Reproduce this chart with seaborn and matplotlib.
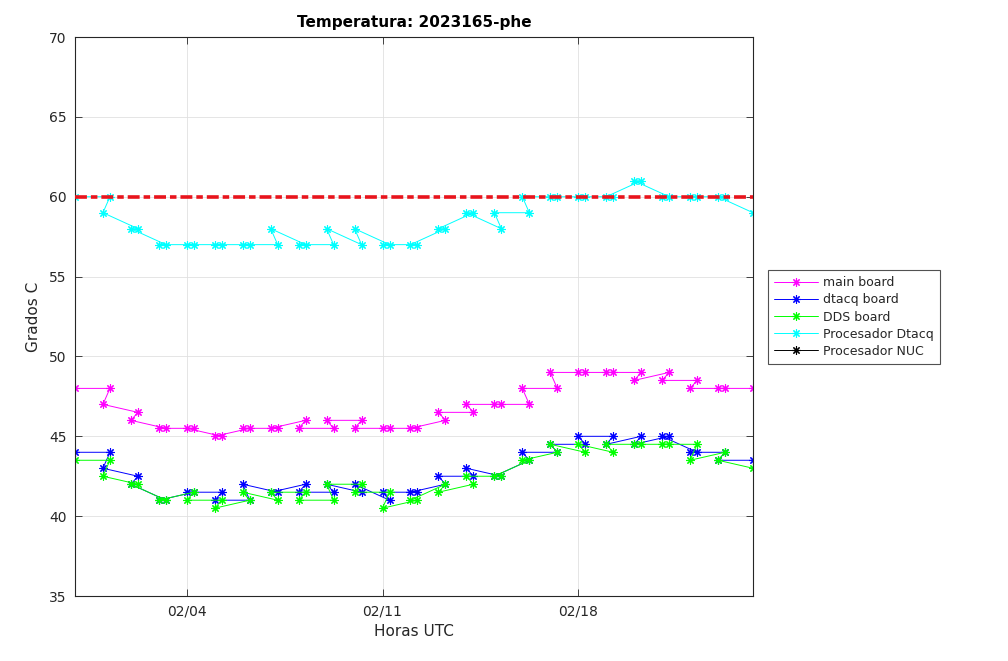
import matplotlib
matplotlib.use('Agg')
import matplotlib.pyplot as plt
import matplotlib.dates as mdates
from matplotlib.lines import Line2D
import numpy as np
import pandas as pd
import seaborn as sns

# Sample times (in the order the file lists them) and temperatures
horas = ['01-31 00',
         '02-01 06', '02-01 00', '02-02 06', '02-02 00', '02-03 06', '02-03 00',
         '02-04 06', '02-04 00', '02-05 06', '02-05 00', '02-06 06', '02-06 00',
         '02-07 06', '02-07 00', '02-08 06', '02-08 00', '02-09 06', '02-09 00',
         '02-10 06', '02-10 00', '02-11 06', '02-11 00', '02-12 06', '02-12 00',
         '02-13 06', '02-13 00', '02-14 06', '02-14 00', '02-15 06', '02-15 00',
         '02-16 06', '02-16 00', '02-17 06', '02-17 00', '02-18 06', '02-18 00',
         '02-19 06', '02-19 00', '02-20 06', '02-20 00', '02-21 06', '02-21 00',
         '02-22 06', '02-22 00', '02-23 06', '02-23 00',
         '02-24 06']

main_board = [48,
              48, 47, 46.5, 46, 45.5, 45.5, 45.5, 45.5, 45, 45, 45.5, 45.5,
              45.5, 45.5, 46, 45.5, 45.5, 46, 46, 45.5, 45.5, 45.5, 45.5, 45.5,
              46, 46.5, 46.5, 47, 47, 47, 47, 48, 48, 49, 49, 49,
              49, 49, 49, 48.5, 49, 48.5, 48.5, 48, 48, 48,
              48]
dtacq_board = [44,
               44, 43, 42.5, 42, 41, 41, 41.5, 41.5, 41.5, 41, 41, 42,
               41.5, 41.5, 42, 41.5, 41.5, 42, 41.5, 42, 41, 41.5, 41.5, 41.5,
               42, 42.5, 42.5, 43, 42.5, 42.5, 43.5, 44, 44, 44.5, 44.5, 45,
               45, 44.5, 45, 44.5, 45, 45, 44, 44, 44, 43.5,
               43.5]
dds_board = [43.5,
             43.5, 42.5, 42, 42, 41, 41, 41.5, 41, 41, 40.5, 41, 41.5,
             41, 41.5, 41.5, 41, 41, 42, 42, 41.5, 41.5, 40.5, 41, 41,
             42, 41.5, 42, 42.5, 42.5, 42.5, 43.5, 43.5, 44, 44.5, 44, 44.5,
             44, 44.5, 44.5, 44.5, 44.5, 44.5, 44.5, 43.5, 44, 43.5,
             43]
proc_dtacq = [60,
              60, 59, 58, 58, 57, 57, 57, 57, 57, 57, 57, 57,
              57, 58, 57, 57, 57, 58, 57, 58, 57, 57, 57, 57,
              58, 58, 59, 59, 58, 59, 59, 60, 60, 60, 60, 60,
              60, 60, 61, 61, 60, 60, 60, 60, 60, 60,
              59]
proc_nuc = [np.nan] * len(horas)   # no NUC readings in this period

umbral = 60

series = [('main board', main_board, '#ff00ff'),
          ('dtacq board', dtacq_board, '#0000ff'),
          ('DDS board', dds_board, '#00ff00'),
          ('Procesador Dtacq', proc_dtacq, '#00ffff'),
          ('Procesador NUC', proc_nuc, '#000000')]

tiempos = pd.to_datetime(['2023-' + h for h in horas], format='%Y-%m-%d %H')

sns.set_style('white')
plt.rcParams['font.family'] = ['DejaVu Sans']
ejes_color = '#262626'

fig = plt.figure(figsize=(10.08, 6.61), dpi=100)
ax = fig.add_axes([0.0744, 0.0983, 0.6726, 0.8457])

asterisco = (8, 2, 0)
handles = []
for nombre, valores, color in series:
    df = pd.DataFrame({'t': tiempos, 'temp': valores})
    if df['temp'].notna().any():
        sns.lineplot(data=df, x='t', y='temp', sort=False, estimator=None,
                     color=color, lw=0.7, marker=asterisco, ms=6,
                     mec=color, mew=0.8, ax=ax, zorder=2)
    handles.append(Line2D([], [], color=color, lw=0.7, marker=asterisco,
                          ms=6, mec=color, mew=0.8, label=nombre))

ax.axhline(umbral, color='#e8141c', lw=2.6, ls=(0, (3.3, 1.1, 1.8, 1.1)), zorder=3)

ax.set_xlim(tiempos.min(), tiempos.max())
ax.set_ylim(35, 70)
ax.set_yticks(range(35, 71, 5))
ax.set_xticks(pd.to_datetime(['2023-02-04', '2023-02-11', '2023-02-18']))
ax.xaxis.set_major_formatter(mdates.DateFormatter('%m/%d'))

ax.grid(True, color='#e0e0e0', lw=0.6)
ax.set_axisbelow(True)
for s in ax.spines.values():
    s.set_visible(True)
    s.set_color(ejes_color)
    s.set_linewidth(0.8)
ax.tick_params(direction='in', length=5, width=0.6, color=ejes_color,
               labelcolor=ejes_color, labelsize=10, top=True, right=True,
               bottom=True, left=True, pad=6)

ax.set_xlabel('Horas UTC', fontsize=11, color=ejes_color, labelpad=4)
ax.set_ylabel('Grados C', fontsize=11, color=ejes_color, labelpad=6)
ax.set_title('Temperatura: 2023165-phe', fontsize=11, fontweight='bold',
             color='black', pad=7)

leg = ax.legend(handles=handles, loc='upper left',
                bbox_to_anchor=(0.762, 0.5915), bbox_transform=fig.transFigure,
                fontsize=9, frameon=True, fancybox=False, handlelength=3.5,
                labelspacing=0.33, borderpad=0.5, handletextpad=0.4,
                borderaxespad=0)
leg.get_frame().set_edgecolor(ejes_color)
leg.get_frame().set_linewidth(0.8)
for txt in leg.get_texts():
    txt.set_color(ejes_color)

fig.savefig('out.png', dpi=100, facecolor='white')
